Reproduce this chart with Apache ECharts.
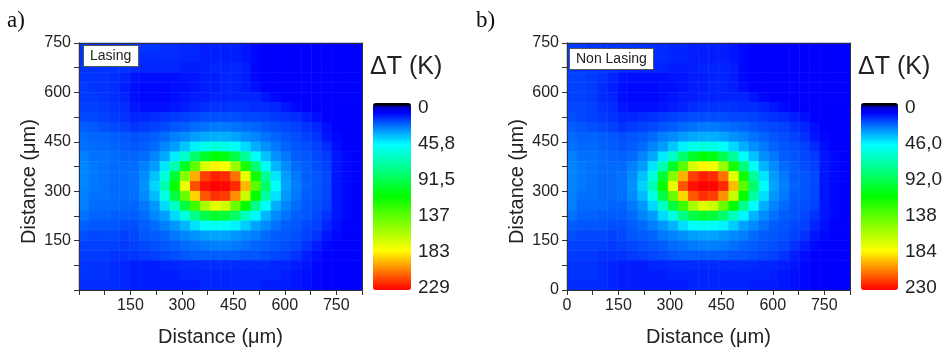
<!DOCTYPE html>
<html>
<head>
<meta charset="utf-8">
<script src="https://cdn.jsdelivr.net/npm/echarts@6/dist/echarts.min.js"></script>
<style>
  html, body { margin: 0; padding: 0; background: #fff; }
  #chart { width: 946px; height: 348px; }
</style>
</head>
<body>
<div id="chart"></div>
<script>
// ΔT maps, 28 x 25 cells (about 30 µm each), top row first (y = 735 µm), left column first
const xMax = 825
const yMax = 750
const cbLabelsA = ['0', '45,8', '91,5', '137', '183', '229']
const cbLabelsB = ['0', '46,0', '92,0', '138', '184', '230']
const maxA = 229
const maxB = 230

const tempLasing = [
  [19,19,19,19,19,19,19,19,18,18,17,17,16,16,16,16,15,13,12,12,12,12,12,12,12,12,12,12],
  [19,19,19,19,19,19,18,18,18,18,17,17,16,16,16,16,15,13,12,12,12,12,12,12,12,12,12,12],
  [19,19,19,19,19,18,17,17,17,17,16,16,16,17,17,17,16,13,12,12,12,12,12,12,12,12,12,12],
  [19,19,19,18,17,15,14,14,14,14,15,15,16,16,17,17,16,13,12,12,12,12,12,12,12,12,12,12],
  [20,19,19,18,16,14,13,13,13,14,14,15,16,16,17,17,16,14,12,12,12,12,12,12,12,12,12,12],
  [20,20,19,18,17,14,13,13,13,14,15,16,16,17,17,17,17,17,15,13,12,12,12,12,12,12,12,12],
  [21,21,20,19,18,15,14,14,14,15,16,17,18,19,19,19,19,18,18,17,15,13,12,12,12,12,12,12],
  [22,22,21,20,19,17,17,18,19,20,21,22,23,23,23,23,22,22,21,20,19,18,16,14,12,12,12,12],
  [25,24,23,22,21,19,20,21,22,24,25,27,28,29,29,28,27,26,24,23,22,21,19,17,14,12,12,12],
  [27,26,26,25,24,23,24,25,27,30,32,35,37,38,38,36,33,31,28,26,24,23,21,19,15,13,12,12],
  [28,27,27,26,25,24,25,27,31,35,42,49,56,60,58,52,45,38,33,29,26,24,23,21,18,14,12,12],
  [30,28,28,27,26,26,27,31,37,48,65,88,104,113,110,95,76,53,41,33,29,25,24,22,20,15,13,12],
  [31,29,28,27,27,27,30,35,47,71,105,139,171,183,179,154,120,85,54,39,32,27,25,23,21,15,13,12],
  [31,29,28,27,27,28,32,41,60,101,149,196,217,223,221,207,175,119,77,47,35,29,25,24,22,15,13,12],
  [31,29,28,27,27,28,33,44,70,116,175,214,226,229,228,221,194,137,88,52,36,30,26,24,22,15,13,12],
  [30,28,28,27,27,28,32,40,58,97,141,189,213,220,218,202,167,115,74,46,34,29,25,24,22,15,13,12],
  [30,27,27,27,26,26,29,34,45,66,98,130,158,173,168,142,113,80,52,38,31,27,24,23,21,15,13,12],
  [28,26,26,25,25,25,27,31,35,45,59,81,96,103,100,88,68,50,39,32,28,25,24,22,19,15,13,12],
  [25,24,24,24,23,23,25,27,30,34,39,46,52,54,53,49,43,36,32,28,25,24,22,21,17,14,12,12],
  [23,22,22,22,21,22,24,25,26,29,31,33,35,36,36,34,32,30,27,25,24,23,21,19,15,13,12,12],
  [21,21,21,21,20,21,22,23,24,25,27,28,29,30,30,29,28,26,25,24,23,22,19,16,13,12,12,12],
  [20,20,20,19,19,19,20,21,22,23,24,25,25,25,25,25,24,24,23,22,21,19,16,14,12,12,12,12],
  [19,19,19,18,17,16,16,16,17,17,18,18,18,18,18,18,18,18,18,17,17,16,15,13,12,12,12,12],
  [19,19,19,18,17,16,16,16,16,16,17,17,17,17,17,17,17,17,17,17,16,15,14,13,12,12,12,12],
  [18,18,18,18,17,16,16,16,16,16,16,16,17,17,17,17,17,17,16,16,16,15,14,13,12,12,12,12]
]

const tempNonLasing = [
  [20,20,19,19,19,19,19,19,18,18,17,17,16,16,16,16,15,13,12,12,12,12,12,12,12,12,12,12],
  [20,20,19,19,19,19,18,18,18,18,17,17,16,16,16,16,15,13,12,12,12,12,12,12,12,12,12,12],
  [20,20,20,19,19,18,17,17,17,17,16,16,16,17,17,17,16,13,12,12,12,12,12,12,12,12,12,12],
  [21,21,20,19,17,15,14,14,14,14,15,15,16,16,17,17,16,13,12,12,12,12,12,12,12,12,12,12],
  [21,21,20,18,16,14,13,13,13,14,14,15,16,16,17,17,16,14,12,12,12,12,12,12,12,12,12,12],
  [21,21,20,18,17,14,13,13,13,14,15,16,16,17,17,17,17,17,15,13,12,12,12,12,12,12,12,12],
  [22,22,21,19,18,15,14,14,14,15,16,17,18,19,19,19,19,18,18,17,15,13,12,12,12,12,12,12],
  [23,22,21,20,19,17,17,18,19,20,21,22,23,23,23,23,22,22,21,20,19,18,16,14,12,12,12,12],
  [25,24,23,22,21,19,20,21,22,24,25,27,28,29,29,28,27,26,24,23,22,21,19,17,14,12,12,12],
  [27,26,26,25,24,23,24,25,27,30,32,35,37,38,38,36,33,31,28,26,24,23,21,19,15,13,12,12],
  [28,27,27,26,25,24,25,27,31,35,42,49,56,60,58,52,45,38,33,29,26,24,23,21,18,14,12,12],
  [30,28,28,27,26,26,27,31,37,48,65,88,104,113,110,95,76,53,41,33,29,25,24,22,20,15,13,12],
  [31,29,28,27,27,27,30,35,47,71,105,139,171,183,179,154,120,85,54,39,32,27,25,23,21,15,13,12],
  [31,29,28,27,27,28,32,41,60,101,149,196,218,224,222,208,175,119,77,47,35,29,25,24,22,15,13,12],
  [31,29,28,27,27,28,33,44,70,116,175,214,227,230,229,222,194,137,88,52,36,30,26,24,22,15,13,12],
  [30,28,28,27,27,28,32,40,58,97,141,189,213,221,218,202,167,115,74,46,34,29,25,24,22,15,13,12],
  [30,27,27,27,26,26,29,34,45,66,98,130,158,173,168,142,113,80,52,38,31,27,24,23,21,15,13,12],
  [28,26,26,25,25,25,27,31,35,45,59,81,96,103,100,88,68,50,39,32,28,25,24,22,19,15,13,12],
  [25,24,24,24,23,23,25,27,30,34,39,46,52,54,53,49,43,36,32,28,25,24,22,21,17,14,12,12],
  [23,22,22,22,21,22,24,25,26,29,31,33,35,36,36,34,32,30,27,25,24,23,21,19,15,13,12,12],
  [21,21,21,21,20,21,22,23,24,25,27,28,29,30,30,29,28,26,25,24,23,22,19,16,13,12,12,12],
  [20,20,20,19,19,19,20,21,22,23,24,25,25,25,25,25,24,24,23,22,21,19,16,14,12,12,12,12],
  [19,19,19,18,17,16,16,16,17,17,18,18,18,18,18,18,18,18,18,17,17,16,15,13,12,12,12,12],
  [19,19,19,18,17,16,16,16,16,16,17,17,17,17,17,17,17,17,17,17,16,15,14,13,12,12,12,12],
  [18,18,18,18,17,16,16,16,16,16,16,16,17,17,17,17,17,17,16,16,16,15,14,13,12,12,12,12]
]

const font = 'Liberation Sans, Arial, sans-serif'
const ink = '#222'

// Origin-like rainbow palette, stops given as fraction of the scale
const rampStops = [
  [0, [0, 0, 0]], [0.012, [0, 0, 0]], [0.02, [0, 0, 190]], [0.052, [0, 0, 255]],
  [0.131, [0, 128, 255]], [0.223, [0, 255, 255]], [0.498, [0, 255, 0]],
  [0.79, [255, 255, 0]], [0.873, [255, 153, 0]], [1, [255, 0, 0]]
]
function ramp (n) {
  const out = []
  for (let k = 0; k < n; k++) {
    const t = k / (n - 1)
    let s = 1
    while (s < rampStops.length - 1 && rampStops[s][0] < t) s++
    const [t0, c0] = rampStops[s - 1]
    const [t1, c1] = rampStops[s]
    const f = t1 === t0 ? 0 : (t - t0) / (t1 - t0)
    const c = c0.map((v, i) => Math.round(v + (c1[i] - v) * f))
    out.push('rgb(' + c.join(',') + ')')
  }
  return out
}

const toCells = rows => {
  const out = []
  rows.forEach((row, r) => row.forEach((v, c) => out.push([c, rows.length - 1 - r, v])))
  return out
}
const xCats = tempLasing[0].map((_, i) => i)
const yCats = tempLasing.map((_, i) => i)

const hiddenCat = (grid, data) => ({ type: 'category', gridIndex: grid, data, show: false })

const distAxis = (grid, pos, max, showZero, isX) => ({
  type: 'value', gridIndex: grid, position: pos, min: 0, max, interval: 75, z: 10,
  axisLine: { show: true, onZero: false, lineStyle: { color: '#333', width: 1 } },
  axisTick: { show: true, inside: false, length: 5, lineStyle: { color: '#333' } },
  splitLine: { show: false },
  axisLabel: {
    fontSize: 16, color: ink, fontFamily: font, margin: 8,
    formatter: v => (v % 150 === 0 && (showZero || v > 0)) ? String(v) : ''
  },
  name: 'Distance (μm)', nameLocation: 'middle', nameGap: isX ? 37 : 40,
  nameTextStyle: { fontSize: 20, color: ink, fontFamily: font, padding: isX ? 0 : [0, 30, 0, 0] }
})

const frameAxis = (grid, pos, max) => ({
  type: 'value', gridIndex: grid, position: pos, min: 0, max, z: 10,
  axisLine: { show: true, onZero: false, lineStyle: { color: '#333', width: 1 } },
  axisTick: { show: false }, axisLabel: { show: false }, splitLine: { show: false }
})

const cbAxis = (grid, max, labels) => ({
  type: 'value', gridIndex: grid, position: 'right', min: 0, max, interval: max / 5, inverse: true,
  axisLine: { show: false }, axisTick: { show: false }, splitLine: { show: false },
  axisLabel: { fontSize: 19, color: ink, fontFamily: font, margin: 7, formatter: v => labels[Math.round(v / (max / 5))] }
})

const plotA = { left: 79, top: 43, width: 283, height: 247, outerBoundsMode: 'none', containLabel: false }
const plotB = { left: 567, top: 43, width: 283, height: 247, outerBoundsMode: 'none', containLabel: false }
const serif = 'Liberation Serif, Times New Roman, serif'

const chart = echarts.init(document.getElementById('chart'))
chart.setOption({
  animation: false,
  textStyle: { fontFamily: font },
  title: [
    { text: 'a)', left: 7, top: 9, padding: 0, textStyle: { fontFamily: serif, fontSize: 23, fontWeight: 'normal', color: '#111' } },
    { text: 'b)', left: 476, top: 9, padding: 0, textStyle: { fontFamily: serif, fontSize: 23, fontWeight: 'normal', color: '#111' } },
    { text: 'ΔT (K)', left: 370, top: 55, padding: 0, textStyle: { fontSize: 25, fontWeight: 'normal', color: ink } },
    { text: 'ΔT (K)', left: 858, top: 55, padding: 0, textStyle: { fontSize: 25, fontWeight: 'normal', color: ink } },
    { text: 'Lasing', left: 83, top: 45, padding: [4, 7], backgroundColor: '#fff', borderColor: '#555', borderWidth: 1, textStyle: { fontSize: 14, fontWeight: 'normal', color: ink } },
    { text: 'Non Lasing', left: 569, top: 48, padding: [4, 7], backgroundColor: '#fff', borderColor: '#555', borderWidth: 1, textStyle: { fontSize: 14, fontWeight: 'normal', color: ink } }
  ],
  grid: [
    plotA, plotA, plotB, plotB,
    { left: 373, top: 108, width: 38, height: 180, outerBoundsMode: 'none', containLabel: false },
    { left: 861, top: 108, width: 37, height: 180, outerBoundsMode: 'none', containLabel: false }
  ],
  xAxis: [
    hiddenCat(0, xCats),
    distAxis(1, 'bottom', xMax, false, true),
    frameAxis(1, 'top', xMax),
    hiddenCat(2, xCats),
    distAxis(3, 'bottom', xMax, true, true),
    frameAxis(3, 'top', xMax),
    { type: 'value', gridIndex: 4, show: false },
    { type: 'value', gridIndex: 5, show: false }
  ],
  yAxis: [
    hiddenCat(0, yCats),
    distAxis(1, 'left', yMax, false, false),
    frameAxis(1, 'right', yMax),
    hiddenCat(2, yCats),
    distAxis(3, 'left', yMax, true, false),
    frameAxis(3, 'right', yMax),
    cbAxis(4, maxA, cbLabelsA),
    cbAxis(5, maxB, cbLabelsB)
  ],
  visualMap: [
    {
      type: 'continuous', seriesIndex: 0, min: 0, max: maxA, inverse: true, calculable: false, hoverLink: false,
      left: 373, top: 103, itemWidth: 38, itemHeight: 187, padding: 0,
      inRange: { color: ramp(231) }
    },
    {
      type: 'continuous', seriesIndex: 1, min: 0, max: maxB, inverse: true, calculable: false, hoverLink: false,
      left: 861, top: 103, itemWidth: 37, itemHeight: 187, padding: 0,
      inRange: { color: ramp(231) }
    }
  ],
  series: [
    { type: 'heatmap', xAxisIndex: 0, yAxisIndex: 0, data: toCells(tempLasing), itemStyle: { borderWidth: 0 }, emphasis: { disabled: true } },
    { type: 'heatmap', xAxisIndex: 3, yAxisIndex: 3, data: toCells(tempNonLasing), itemStyle: { borderWidth: 0 }, emphasis: { disabled: true } }
  ]
})
</script>
</body>
</html>
